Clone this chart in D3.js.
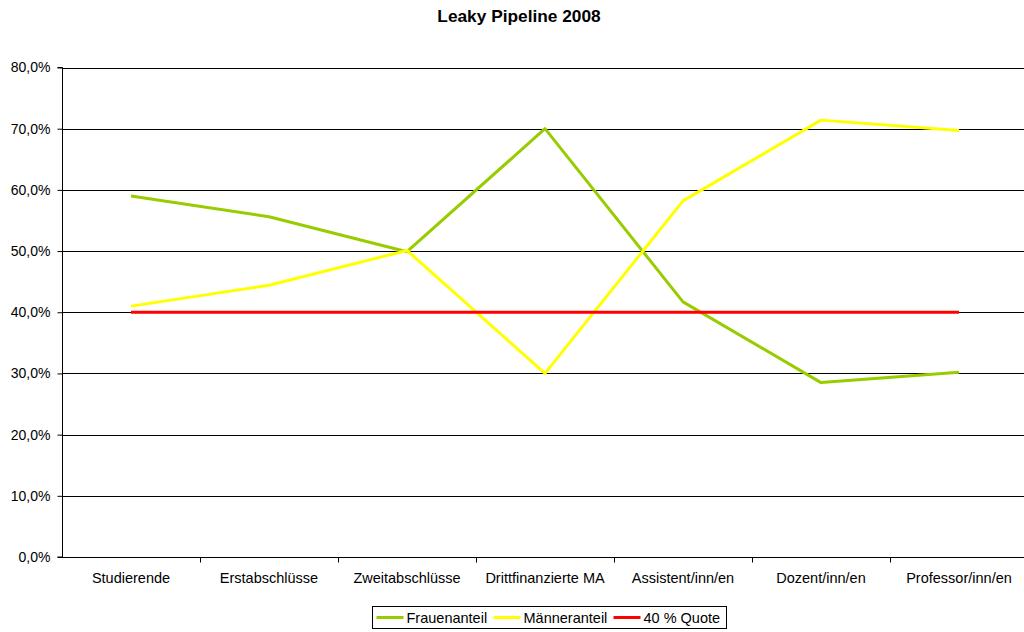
<!DOCTYPE html>
<html><head><meta charset="utf-8">
<script src="https://cdn.jsdelivr.net/npm/d3@7"></script>
<style>body{margin:0;background:#fff;}svg{display:block;font-family:"Liberation Sans",Arial,sans-serif;}</style>
</head><body>
<svg id="c" width="1024" height="632"></svg>
<script>
const categories = ["Studierende","Erstabschlüsse","Zweitabschlüsse","Drittfinanzierte MA","Assistent/inn/en","Dozent/inn/en","Professor/inn/en"];
const frauen = [59.0, 55.6, 49.9, 70.0, 41.7, 28.5, 30.2];
const maenner = [41.0, 44.4, 50.1, 30.0, 58.2, 71.4, 69.7];
const quote = [40, 40, 40, 40, 40, 40, 40];
const yTicks = [0,10,20,30,40,50,60,70,80];
const seriesNames = ["Frauenanteil","Männeranteil","40 % Quote"];
const seriesColors = ["#99CC00","#FFFF00","#FF0000"];

const svg = d3.select("#c");
const FF = "Liberation Sans, Arial, sans-serif";
const L = 62, R = 1028, T = 67.5, B = 557;
const x = d3.scaleBand().domain(categories).range([L, R]);
const y = d3.scaleLinear().domain([0, 80]).range([B, T]);

svg.append("text").attr("x", 519).attr("y", 22).attr("text-anchor","middle")
  .attr("font-size", 17.3).attr("font-weight","bold").text("Leaky Pipeline 2008");

// gridlines
svg.append("g").selectAll("line").data(yTicks.filter(d=>d>0)).join("line")
  .attr("x1", L).attr("x2", 1024).attr("y1", d=>Math.round(y(d))+0.5).attr("y2", d=>Math.round(y(d))+0.5)
  .attr("stroke","#000").attr("stroke-width",1);

// y axis
const yAxis = d3.axisLeft(y).tickValues(yTicks).tickSize(5).tickPadding(7)
  .tickFormat(d => d.toFixed(1).replace(".", ",") + "%");
const gy = svg.append("g").attr("transform", `translate(${L+0.5},0)`).call(yAxis);
gy.selectAll("text").attr("font-size", 14).attr("fill","#000").attr("font-family",FF);
gy.selectAll("line,path").attr("stroke","#000");
gy.select(".domain").attr("d", `M-5,${T}H0V${B}H-5`);

// x axis
const xAxis = d3.axisBottom(x).tickSize(0).tickPadding(15);
const gx = svg.append("g").attr("transform", `translate(0,${Math.round(B)+0.5})`).call(xAxis);
gx.select(".domain").attr("d", `M${L},0H1024`).attr("stroke","#000");
gx.selectAll("text").attr("font-size", 14.5).attr("fill","#000").attr("font-family",FF);
// category boundary ticks
gx.append("g").selectAll("line").data(categories.slice(1)).join("line")
  .attr("x1", d=>Math.round(x(d))+0.5).attr("x2", d=>Math.round(x(d))+0.5).attr("y1",0).attr("y2",5)
  .attr("stroke","#000");

const line = d3.line().x((d,i)=>x(categories[i]) + x.bandwidth()/2).y(d=>y(d));
[frauen, maenner, quote].forEach((s, k) => {
  svg.append("path").datum(s).attr("d", line).attr("fill","none")
    .attr("stroke", seriesColors[k]).attr("stroke-width", 3).attr("stroke-linejoin","round");
});

// legend
const lg = svg.append("g").attr("transform","translate(372.5,606.5)");
lg.append("rect").attr("width", 354).attr("height", 22).attr("fill","#fff").attr("stroke","#000");
const offs = [4, 121, 241];
seriesNames.forEach((n,k)=>{
  lg.append("line").attr("x1", offs[k]).attr("x2", offs[k]+27).attr("y1", 11).attr("y2", 11)
    .attr("stroke", seriesColors[k]).attr("stroke-width", 3);
  lg.append("text").attr("x", offs[k]+30).attr("y", 16.5).attr("font-size", 14.5).text(n);
});
</script>
</body></html>
